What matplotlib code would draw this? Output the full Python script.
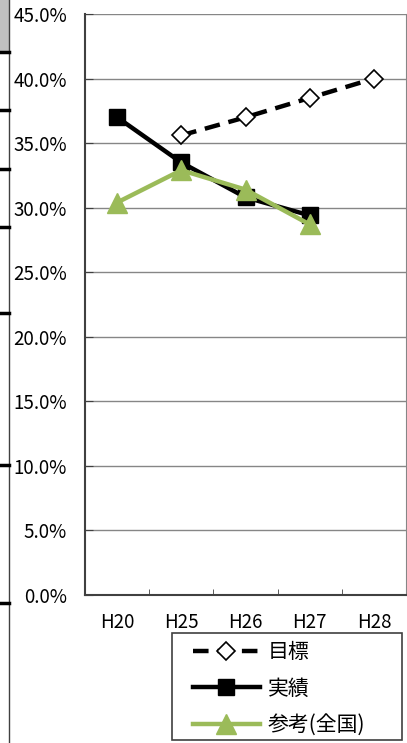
import numpy as np
import matplotlib.pyplot as plt
from matplotlib.lines import Line2D
from matplotlib.patches import Rectangle

plt.rcParams['font.family'] = ['Noto Sans CJK JP', 'DejaVu Sans']

years = ['H20', 'H25', 'H26', 'H27', 'H28']
target = [np.nan, 35.6, 37.0, 38.5, 40.0]      # 目標
actual = [37.0, 33.5, 30.8, 29.4, np.nan]      # 実績
national = [30.4, 32.9, 31.4, 28.7, np.nan]    # 参考(全国)
yticks = np.arange(0, 50, 5)

W, H = 407, 743
fig = plt.figure(figsize=(W / 100, H / 100), dpi=100)
ax = fig.add_axes([85 / W, 1 - 595 / H, 321 / W, (595 - 14) / H])

x = np.arange(len(years))
green = '#9bbb59'
ax.plot(x, target, color='black', lw=3.2, ls=(0, (3.5, 2)), marker='D',
        ms=9.5, mfc='white', mec='black', mew=1.2, label='目標', zorder=3)
ax.plot(x, actual, color='black', lw=3.2, marker='s', ms=12,
        label='実績', zorder=4)
ax.plot(x, national, color=green, lw=3.2, marker='^', ms=14,
        label='参考(全国)', zorder=5)

ax.set_xlim(-0.5, len(years) - 0.5)
ax.set_ylim(0, 45)
ax.set_yticks(yticks)
ax.set_yticklabels([f'{v:.1f}%' for v in yticks], fontsize=13.5)
ax.set_xticks(x)
ax.set_xticklabels(years, fontsize=13.5)
ax.set_xticks(np.arange(0.5, len(years) - 1, 1), minor=True)
ax.tick_params(axis='x', which='major', length=0, pad=12)
ax.tick_params(axis='x', which='minor', direction='in', length=4, color='#404040')
ax.tick_params(axis='y', direction='in', length=6, color='#404040', pad=13)
ax.grid(axis='y', color='#868686', lw=1)
ax.set_axisbelow(True)
for side in ['left', 'bottom']:
    ax.spines[side].set_color('#404040')
    ax.spines[side].set_linewidth(1.5)
ax.spines['right'].set_color('#868686')
ax.spines['top'].set_visible(False)

# legend: drawn frameless inside its own box
fig.add_artist(Rectangle((172 / W, 1 - 740 / H), 230 / W, 107 / H,
                         transform=fig.transFigure, facecolor='white',
                         edgecolor='#404040', lw=1.2))
leg = fig.legend(loc='upper left', bbox_to_anchor=(193 / W, 1 - 641 / H),
                 fontsize=15, handlelength=3.2, labelspacing=0.7,
                 frameon=False, borderpad=0, handletextpad=0.4,
                 borderaxespad=0)

# leftover edge of the neighbouring panel
fig.add_artist(Rectangle((0, 1 - 52 / H), 9 / W, 52 / H, transform=fig.transFigure,
                         facecolor='#c0c0c0', edgecolor='none'))
fig.add_artist(Line2D([9 / W, 9 / W], [0, 1], transform=fig.transFigure,
                      color='#404040', lw=1))
for yy in [52, 110, 169, 227, 313, 465, 603]:
    fig.add_artist(Line2D([0, 9 / W], [1 - yy / H, 1 - yy / H],
                          transform=fig.transFigure, color='black', lw=2.5))

fig.savefig('out.png', dpi=100)
